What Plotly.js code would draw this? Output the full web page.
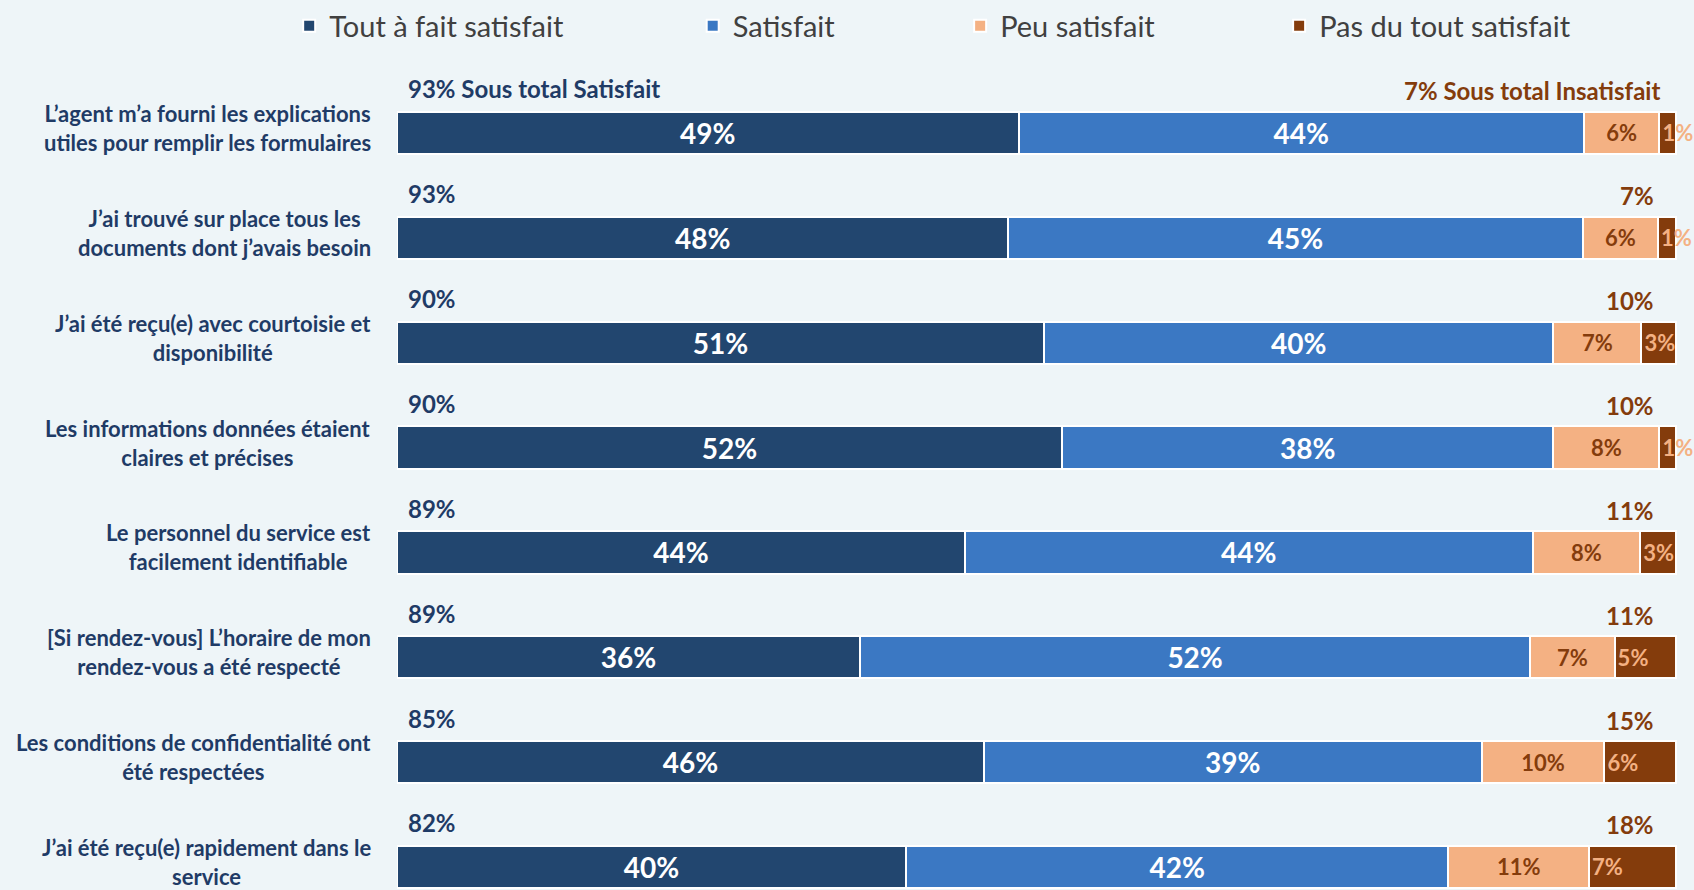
<!DOCTYPE html>
<html><head><meta charset="utf-8">
<script src="https://cdn.plot.ly/plotly-3.0.1.min.js"></script>
<style>html,body{margin:0;padding:0;background:#EEF5F8;} #chart{width:1694px;height:890px;}</style>
</head><body><div id="chart"></div>
<script>
const categories = [
  "L’agent m’a fourni les explications<br>utiles pour remplir les formulaires",
  "J’ai trouvé sur place tous les<br>documents dont j’avais besoin",
  "J’ai été reçu(e) avec courtoisie et<br>disponibilité",
  "Les informations données étaient<br>claires et précises",
  "Le personnel du service est<br>facilement identifiable",
  "[Si rendez-vous] L’horaire de mon<br>rendez-vous a été respecté",
  "Les conditions de confidentialité ont<br>été respectées",
  "J’ai été reçu(e) rapidement dans le<br>service"
];
const seriesNames = ["Tout à fait satisfait", "Satisfait", "Peu satisfait", "Pas du tout satisfait"];
const toutAFait = [48.6, 47.8, 50.6, 52.0, 44.4, 36.2, 45.9, 39.8];
const satisfait = [44.2, 44.9, 39.8, 38.4, 44.4, 52.4, 38.9, 42.4];
const peuSatisfait = [5.9, 5.9, 6.9, 8.3, 8.4, 6.6, 9.6, 11.0];
const pasDuTout = [1.3, 1.4, 2.7, 1.3, 2.8, 4.8, 5.6, 6.8];
const satSuffix = " Sous total Satisfait";
const insatSuffix = " Sous total Insatisfait";

const FONT = 'Lato, "Open Sans", sans-serif';
const colors = ["#22466F", "#3B78C3", "#F4B183", "#843C0C"];
const textColors = ["#FFFFFF", "#FFFFFF", "#843C0C", "#F4B183"];
const textSizes = [28, 28, 22, 22];
const textAnchors = ["middle", "middle", "middle", "start"];
const seriesData = [toutAFait, satisfait, peuSatisfait, pasDuTout];
const legendIds = ["legend", "legend2", "legend3", "legend4"];

const traces = seriesData.map((vals, i) => ({
  type: "bar",
  orientation: "h",
  name: seriesNames[i],
  x: vals,
  y: categories,
  legend: legendIds[i],
  marker: {color: colors[i], line: {color: "#FFFFFF", width: 2}},
  texttemplate: "%{x:.0f}%",
  textposition: "inside",
  insidetextanchor: textAnchors[i],
  textangle: 0,
  constraintext: "none",
  textfont: {family: FONT, size: textSizes[i], color: textColors[i], weight: 700},
  hoverinfo: "skip"
}));

const annotations = [];
categories.forEach((c, i) => {
  annotations.push({
    xref: "paper", yref: "y", x: 0, y: c, xanchor: "right", yanchor: "middle",
    xshift: -24, yshift: 5, align: "center", showarrow: false, text: c,
    font: {family: FONT, size: 22, color: "#1F3B66", weight: 700}
  });
  const sat = Math.round(toutAFait[i] + satisfait[i]);
  const insat = Math.round(peuSatisfait[i] + pasDuTout[i]);
  annotations.push({
    xref: "x", yref: "y", x: 0, y: c, xanchor: "left", yanchor: "middle",
    xshift: 9, yshift: 44, showarrow: false,
    text: sat + "%" + (i === 0 ? satSuffix : ""),
    font: {family: FONT, size: 24, color: "#1F3B66", weight: 700}
  });
  annotations.push({
    xref: "x", yref: "y", x: 100, y: c, xanchor: "right", yanchor: "middle",
    xshift: i === 0 ? -14 : -20, yshift: 42, showarrow: false,
    text: insat + "%" + (i === 0 ? insatSuffix : ""),
    font: {family: FONT, size: 24, color: "#843C0C", weight: 700}
  });
});

// plot area spans 397..1694 px; 100% ends at 1676 px
const legendX = [-0.0843, 0.2312, 0.4403, 0.6897].map(v => v * 1279 / 1297);
const layout = {
  width: 1694, height: 890,
  paper_bgcolor: "#EEF5F8", plot_bgcolor: "#EEF5F8",
  margin: {l: 397, r: 0, t: 80, b: 0, pad: 0},
  barmode: "stack",
  bargap: 0.597,
  showlegend: true,
  xaxis: {range: [0, 100 * 1297 / 1279], autorange: false, visible: false, fixedrange: true},
  yaxis: {type: "category", range: [7.22, -0.505], autorange: false, showticklabels: false,
          showgrid: false, zeroline: false, showline: false, ticks: ""},
  annotations: annotations,
  font: {family: FONT}
};
legendIds.forEach((id, i) => {
  layout[id] = {
    orientation: "h", x: legendX[i], xanchor: "left", y: 1.0667, yanchor: "middle",
    bgcolor: "rgba(0,0,0,0)", borderwidth: 0, itemwidth: 30,
    font: {family: FONT, size: 29, color: "#404040"}
  };
});

Plotly.newPlot("chart", traces, layout, {displayModeBar: false, staticPlot: true});
</script>
</body></html>
